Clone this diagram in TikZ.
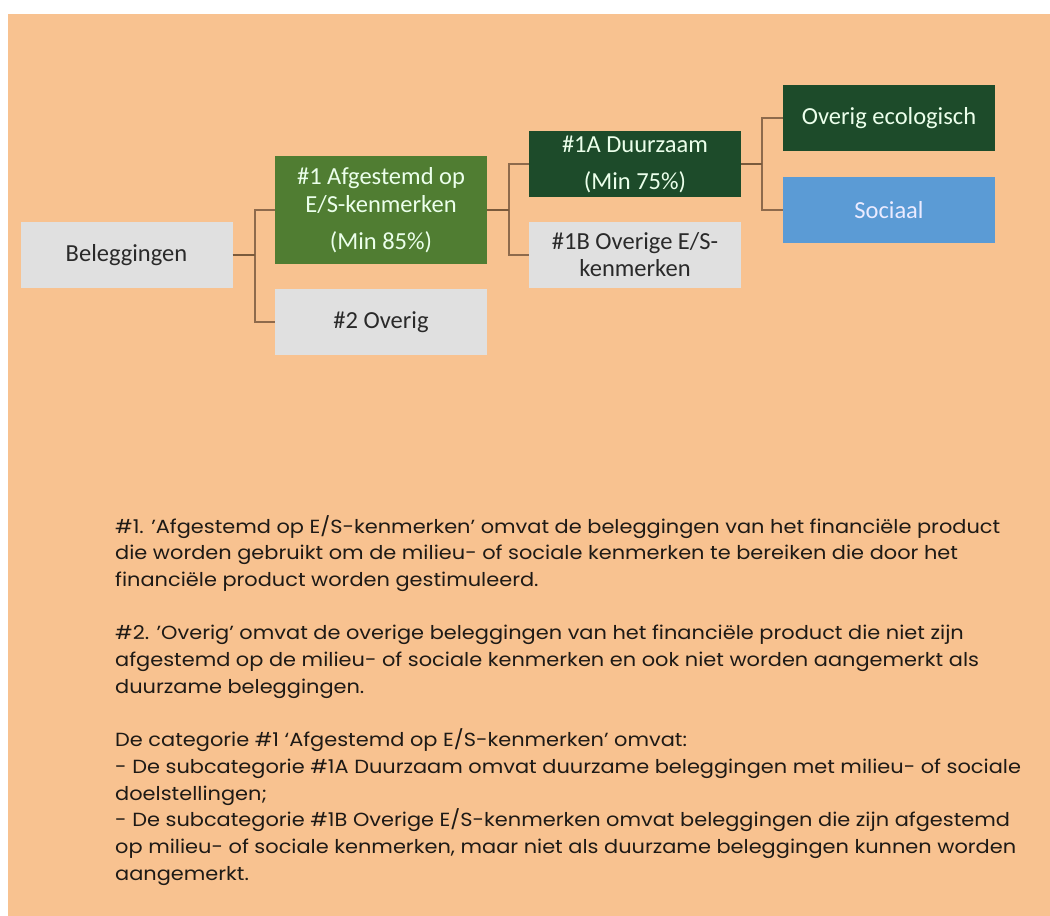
\documentclass[tikz,border=0pt]{standalone}
\usepackage{fontspec}
\setmainfont{Carlito}
\newfontfamily\bodyfont[FakeStretch=1.1]{Poppins}
\definecolor{bg}{HTML}{F8C290}
\definecolor{boxgrey}{HTML}{E0E0E0}
\definecolor{midgreen}{HTML}{507D32}
\definecolor{darkgreen}{HTML}{1D4B2A}
\definecolor{bluefill}{HTML}{5B9BD5}
\definecolor{textdark}{HTML}{2A2A2A}
\definecolor{linkbrown}{HTML}{8E6A4C}
\definecolor{stubbrown}{HTML}{7A5A3C}
\definecolor{bodytext}{HTML}{1E1A16}
\begin{document}
\begin{tikzpicture}[x=1pt,y=-1pt,
  box/.style={rectangle, inner sep=0pt, minimum width=212pt, minimum height=66pt, align=center,
              font=\fontsize{24.5}{28}\selectfont},
  greybox/.style={box, fill=boxgrey, text=textdark},
  greenbox/.style={box, fill=midgreen, text=white!92!green},
  darkbox/.style={box, fill=darkgreen, text=white!92!green},
  bluebox/.style={box, fill=bluefill, text=white!92!blue},
  stub/.style={draw=stubbrown, line width=2.6pt},
  branch/.style={draw=linkbrown, line width=1.6pt},
  bodyline/.style={anchor=base west, inner sep=0pt, text=bodytext,
                   font=\bodyfont\fontsize{19}{26}\selectfont}
]
\useasboundingbox (0,0) rectangle (1050,916);
\fill[white] (0,0) rectangle (1050,916);
\fill[bg] (8,14) rectangle (1050,916);

% boxes
\node[greybox] (bel) at (126.5,255) {Beleggingen};
\node[greenbox, minimum height=108pt] (afg) at (381,210) {\#1 Afgestemd op\\E/S-kenmerken\\[9pt](Min 85\%)};
\node[greybox] (ov2) at (381,322) {\#2 Overig};
\node[darkbox] (d1a) at (635,164) {\#1A Duurzaam\\[9pt](Min 75\%)};
\node[greybox] (d1b) at (635,255) {\#1B Overige E/S-\\[-1pt]kenmerken};
\node[darkbox] (eco) at (889,118) {Overig ecologisch};
\node[bluebox] (soc) at (889,210) {Sociaal};

% connectors
\coordinate (j1) at ([xshift=22pt]bel.east);
\coordinate (j2) at ([xshift=22pt]afg.east);
\coordinate (j3) at ([xshift=21pt]d1a.east);
\draw[branch] (j1) |- (afg.west);
\draw[branch] (j1) |- (ov2.west);
\draw[stub] (bel.east) -- (j1);
\draw[branch] (j2) |- (d1a.west);
\draw[branch] (j2) |- (d1b.west);
\draw[stub] (afg.east) -- (j2);
\draw[branch] (j3) |- (eco.west);
\draw[branch] (j3) |- (soc.west);
\draw[stub] (d1a.east) -- (j3);

% explanatory text
\node[bodyline] (t1) at (115,533.0) {\#1. ’Afgestemd op E/S-kenmerken’ omvat de beleggingen van het financiële product};
\node[bodyline] (t2) at (115,559.7) {die worden gebruikt om de milieu- of sociale kenmerken te bereiken die door het};
\node[bodyline] (t3) at (115,586.4) {financiële product worden gestimuleerd.};
\node[bodyline] (t5) at (115,639.8) {\#2. ’Overig’ omvat de overige beleggingen van het financiële product die niet zijn};
\node[bodyline] (t6) at (115,666.5) {afgestemd op de milieu- of sociale kenmerken en ook niet worden aangemerkt als};
\node[bodyline] (t7) at (115,693.2) {duurzame beleggingen.};
\node[bodyline] (t9) at (115,746.6) {De categorie \#1 ‘Afgestemd op E/S-kenmerken’ omvat:};
\node[bodyline] (t10) at (115,773.3) {- De subcategorie \#1A Duurzaam omvat duurzame beleggingen met milieu- of sociale};
\node[bodyline] (t11) at (115,800.0) {doelstellingen;};
\node[bodyline] (t12) at (115,826.7) {- De subcategorie \#1B Overige E/S-kenmerken omvat beleggingen die zijn afgestemd};
\node[bodyline] (t13) at (115,853.4) {op milieu- of sociale kenmerken, maar niet als duurzame beleggingen kunnen worden};
\node[bodyline] (t14) at (115,880.1) {aangemerkt.};
\end{tikzpicture}
\end{document}
